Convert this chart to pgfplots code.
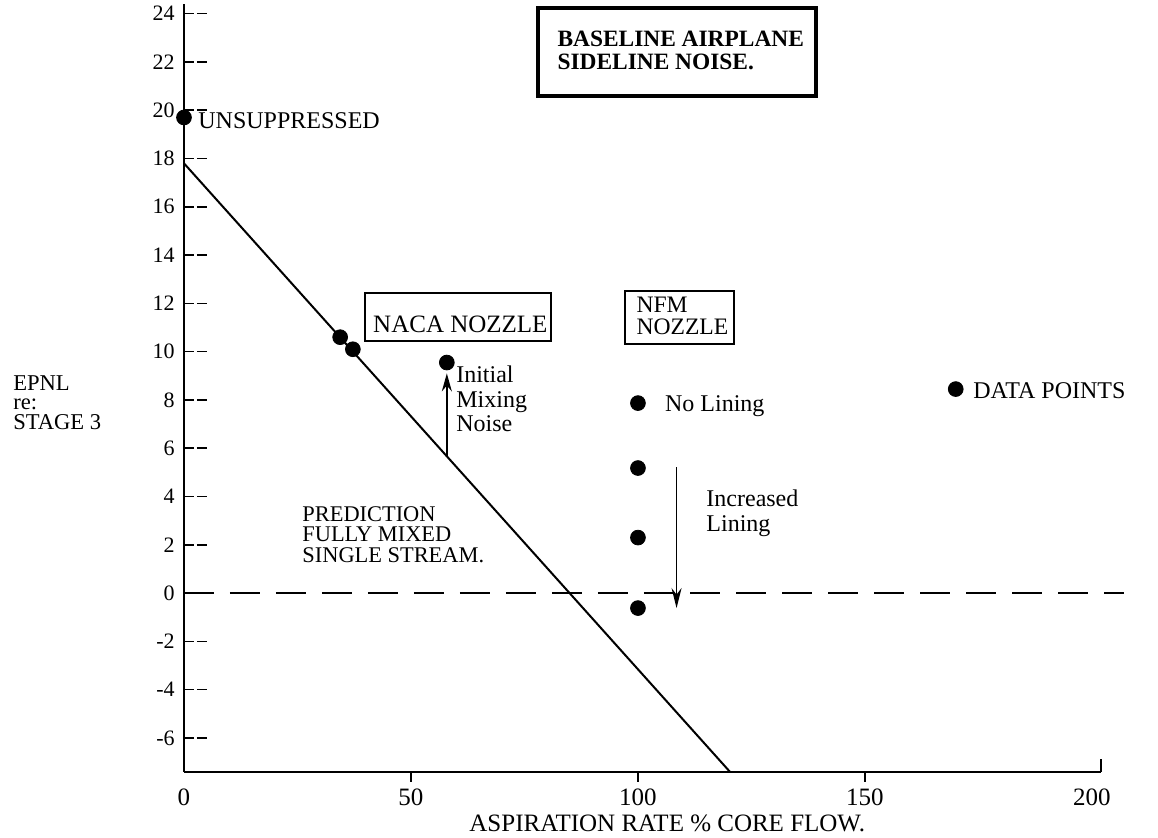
\documentclass[border=0pt]{standalone}
\usepackage{fontspec}
\setmainfont{Liberation Serif}
\usepackage{pgfplots}
\pgfplotsset{compat=1.18}
\usetikzlibrary{arrows.meta}

\newcommand{\fs}[1]{\fontsize{#1}{#1}\selectfont}

\begin{document}
\begin{tikzpicture}
\begin{axis}[
  scale only axis, width=458.5pt, height=384pt,
  xmin=0, xmax=202, ymin=-7.41, ymax=24.4,
  axis x line*=bottom, axis y line*=left,
  axis line style={line width=1.3pt},
  xtick={0,50,100,150,200},
  ytick={-6,-4,...,24},
  tick align=inside,
  major tick length=12pt,
  y tick style={line width=0.8pt, dash pattern=on 5pt off 1.5pt, black},
  x tick style={draw=none},
  /pgf/number format/assume math mode=true,
  yticklabel style={font=\fs{11}, inner sep=1.5pt, xshift=-3pt},
  xticklabel style={font=\fs{12.5}, yshift=-5pt},
  xlabel={ASPIRATION RATE \% CORE FLOW.},
  xlabel style={at={(axis description cs:0.527,0)}, anchor=base, yshift=-29.5pt, font=\fs{12.5}},
  clip=false,
]
% prediction, fully mixed single stream
\addplot[black, line width=1pt] coordinates {(0,17.8) (120.3,-7.41)};
% stage 3 reference
\addplot[black, line width=0.8pt, dash pattern=on 15pt off 8pt] coordinates {(0,0) (207,0)};
% data points
\addplot[only marks, mark=*, mark size=3.7pt, black] coordinates {
  (0,19.7) (34.4,10.6) (37.2,10.1) (57.9,9.55)
  (100,7.87) (100,5.18) (100,2.3) (100,-0.62) (170,8.45)};

% x ticks drawn by hand (outward)
\draw[line width=0.8pt] (axis cs:50,-7.41) -- ([yshift=-5pt]axis cs:50,-7.41);
\draw[line width=0.8pt] (axis cs:100,-7.41) -- ([yshift=-5pt]axis cs:100,-7.41);
\draw[line width=0.8pt] (axis cs:150,-7.41) -- ([yshift=-5pt]axis cs:150,-7.41);
\draw[line width=0.8pt] (axis cs:202,-7.41) -- ([yshift=6.5pt]axis cs:202,-7.41);

% arrows
\draw[line width=0.9pt, -{Stealth[length=9pt,width=5pt]}] (axis cs:57.9,5.66) -- (axis cs:57.9,9.1);
\draw[line width=0.9pt, -{Stealth[length=10pt,width=5pt]}] (axis cs:108.5,5.22) -- (axis cs:108.5,-0.62);

% boxes
\draw[line width=2pt] (axis cs:77.97,24.24) rectangle (axis cs:139.2,20.59);
\draw[line width=0.8pt] (axis cs:39.87,12.43) rectangle (axis cs:80.84,10.44);
\draw[line width=0.8pt] (axis cs:97.14,12.51) rectangle (axis cs:121.15,10.32);

% texts
\node[anchor=south west, inner sep=0, align=left, font=\bfseries\fontsize{11.7}{11.5}\selectfont]
  at (axis cs:82.2,21.67) {BASELINE AIRPLANE\\SIDELINE NOISE.};
\node[anchor=base west, inner sep=0, font=\fs{12}] at (axis cs:3.08,19.23) {UNSUPPRESSED};
\node[anchor=base west, inner sep=0, font=\fs{12.5}] at (axis cs:41.6,10.78) {NACA NOZZLE};
\node[anchor=south west, inner sep=0, align=left, font=\fontsize{11.8}{11}\selectfont]
  at (axis cs:99.6,10.69) {NFM\\NOZZLE};
\node[anchor=south west, inner sep=0, align=left, font=\fontsize{12}{12.2}\selectfont]
  at (axis cs:59.9,6.67) {Initial\\Mixing\\Noise};
\node[anchor=base west, inner sep=0, font=\fs{12}] at (axis cs:105.9,7.54) {No Lining};
\node[anchor=base west, inner sep=0, font=\fs{12}] at (axis cs:173.8,8.04) {DATA POINTS};
\node[anchor=base west, inner sep=0, font=\fs{12}] at (axis cs:115.0,3.60) {Increased};
\node[anchor=base west, inner sep=0, font=\fs{12}] at (axis cs:115.0,2.55) {Lining};
\node[anchor=south west, inner sep=0, align=left, font=\fontsize{11.2}{10.3}\selectfont]
  at (axis cs:26.0,1.25) {PREDICTION\\FULLY MIXED\\SINGLE STREAM.};
\node[anchor=south west, inner sep=0, align=left, font=\fontsize{11.3}{9.8}\selectfont]
  at (axis cs:-37.7,6.75) {EPNL\\re:\\STAGE 3};
\end{axis}
\pgfresetboundingbox
\path[use as bounding box] (-92pt,-32.5pt) rectangle (487pt,386pt);
\end{tikzpicture}
\end{document}
